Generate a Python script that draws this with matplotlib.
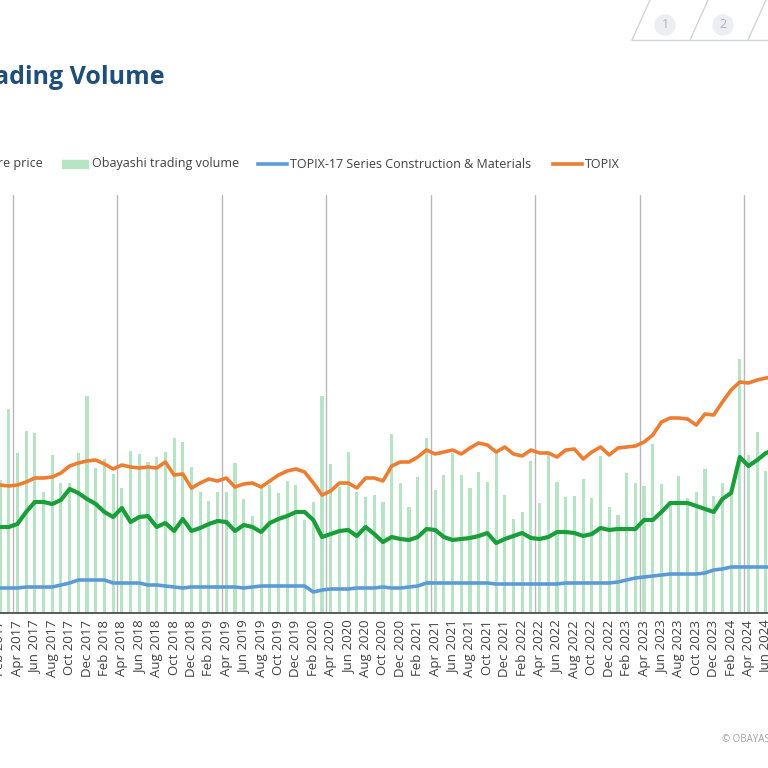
import numpy as np
import matplotlib.pyplot as plt
from matplotlib.lines import Line2D
from matplotlib.patches import Rectangle, Circle

plt.rcParams['font.family'] = ['Open Sans', 'DejaVu Sans']

# monthly series, Feb 2017 .. Jul 2024 (chart units)
MONTHS = ['Jan', 'Feb', 'Mar', 'Apr', 'May', 'Jun', 'Jul', 'Aug', 'Sep', 'Oct', 'Nov', 'Dec']
start_year = 2017
start_month = 1  # Feb

topix_raw = [485, 486, 485, 482, 478, 478, 477, 473, 466, 463, 461, 460, 464, 469, 465, 467, 468, 467, 468, 462,
             475, 474, 488, 483, 479, 481, 478, 487, 484, 483, 487, 481, 475, 471, 469, 472, 483, 495, 491, 483,
             483, 488, 478, 478, 481, 466, 462, 462, 457, 450, 454, 452, 450, 454, 448, 443, 445, 452, 447, 454,
             456, 450, 453, 453, 457, 450, 449, 459, 452, 447, 455, 448, 447, 446, 442, 435, 422, 418, 418, 419,
             425, 414, 415, 402, 390, 382, 383, 380, 378, 377]
price_raw = [527, 527, 524, 512, 502, 502, 504, 500, 489, 493, 499, 504, 512, 517, 508, 522, 517, 516, 527, 523,
             531, 519, 531, 528, 524, 521, 522, 531, 525, 527, 532, 523, 519, 516, 512, 512, 520, 537, 534, 531,
             530, 536, 527, 534, 542, 537, 539, 540, 537, 529, 530, 537, 540, 539, 538, 536, 533, 543, 539, 536,
             533, 538, 539, 537, 532, 532, 533, 536, 534, 528, 530, 529, 529, 529, 520, 520, 512, 503, 503, 503,
             506, 509, 512, 499, 493, 457, 466, 460, 453, 450]
constr_raw = [588, 588, 588, 587, 587, 587, 587, 585, 583, 580, 580, 580, 580, 583, 583, 583, 583, 585, 585, 586,
              587, 588, 587, 587, 587, 587, 587, 587, 588, 587, 586, 586, 586, 586, 586, 586, 592, 590, 589, 589,
              589, 588, 588, 588, 587, 588, 588, 587, 586, 583, 583, 583, 583, 583, 583, 583, 583, 584, 584, 584,
              584, 584, 584, 584, 584, 583, 583, 583, 583, 583, 583, 582, 580, 578, 577, 576, 575, 574, 574, 574,
              574, 573, 570, 569, 567, 567, 567, 567, 567, 567]
volume_raw = [480, 409, 453, 431, 433, 492, 455, 483, 483, 453, 396, 468, 459, 474, 488, 451, 454, 462, 457, 452,
              438, 442, 467, 492, 501, 492, 492, 463, 499, 516, 488, 485, 493, 481, 485, 520, 502, 396, 464, 487,
              452, 492, 497, 495, 502, 434, 483, 507, 477, 438, 490, 475, 453, 475, 488, 472, 482, 450, 495, 519,
              512, 461, 503, 455, 482, 497, 496, 479, 498, 456, 507, 515, 473, 483, 486, 444, 484, 503, 476, 498,
              492, 469, 496, 483, 495, 359, 455, 432, 471, 470]

BASE = 613  # readings were taken from the top of the page; turn them into heights
topix = BASE - np.array(topix_raw)
price = BASE - np.array(price_raw)
constr = BASE - np.array(constr_raw)
volume = BASE - np.array(volume_raw)

n = len(topix)
m = np.arange(start_month, start_month + n)
labels = [f"{MONTHS[k % 12]} {start_year + k // 12}" for k in m]

fig = plt.figure(figsize=(7.68, 7.68), dpi=100)
ax = fig.add_axes([0, (768 - 613) / 768, 1, 418 / 768])
ax.set_xlim(1.165, 89.24)
ax.set_ylim(0, 418)

for yr in range(2016, 2026):
    xb = (yr - start_year) * 12 + 2.5
    ax.axvline(xb, color='#b8b8b8', lw=1, zorder=0)

ax.bar(m, volume, width=0.36, color='#b8e4c6', zorder=1)
ax.plot(m, constr, color='#5b9bd5', lw=2.6, zorder=3)
ax.plot(m, price, color='#1a9e3a', lw=3, zorder=4)
ax.plot(m, topix, color='#ed7d31', lw=2.6, zorder=3)

for s in ['top', 'left', 'right']:
    ax.spines[s].set_visible(False)
ax.spines['bottom'].set_color('#404040')
ax.spines['bottom'].set_linewidth(1.2)
ax.set_yticks([])
ax.set_xticks(m[::2])
ax.set_xticklabels(labels[::2], rotation=90, fontsize=9.5, color='#404040', fontfamily='Open Sans')
ax.tick_params(axis='x', length=0, pad=5)

# title (cut at the slide edge)
fig.text(165 / 768, 1 - 78 / 768, 'Share Price and Trading Volume', ha='right', va='center',
         fontsize=18, fontweight='bold', color='#1f4e79')

# legend row
ly = 1 - 164 / 768
fs = 9
fig.text(43 / 768, ly, 'Obayashi share price', ha='right', va='center', fontsize=fs, color='#404040')
fig.add_artist(Rectangle((62 / 768, ly - 4 / 768), 26 / 768, 8 / 768, transform=fig.transFigure,
                         color='#b8e4c6'))
fig.text(92 / 768, ly, 'Obayashi trading volume', va='center', fontsize=fs, color='#404040')
fig.add_artist(Line2D([258 / 768, 287 / 768], [ly, ly], transform=fig.transFigure, color='#5b9bd5', lw=2.6))
fig.text(290 / 768, ly, 'TOPIX-17 Series Construction & Materials', va='center', fontsize=fs, color='#404040')
fig.add_artist(Line2D([553 / 768, 582 / 768], [ly, ly], transform=fig.transFigure, color='#ed7d31', lw=2.6))
fig.text(585 / 768, ly, 'TOPIX', va='center', fontsize=fs, color='#404040')

# page tabs top right
tab_c = '#d0d4da'
for x0 in [650, 708, 766]:
    fig.add_artist(Line2D([x0 / 768, (x0 - 18) / 768], [1, 1 - 40 / 768], transform=fig.transFigure,
                          color=tab_c, lw=1))
fig.add_artist(Line2D([632 / 768, 1], [1 - 40 / 768, 1 - 40 / 768], transform=fig.transFigure,
                      color=tab_c, lw=1))
for cx, t in [(665, '1'), (723, '2')]:
    fig.add_artist(Circle((cx / 768, 1 - 25 / 768), 10 / 768, transform=fig.transFigure,
                          color='#eceef2'))
    fig.text(cx / 768, 1 - 25 / 768, t, ha='center', va='center', fontsize=9, color='#b0b4bc')

fig.text(722 / 768, 1 - 740 / 768, '© OBAYASHI CORPORATION', va='center', fontsize=7, color='#a0a0a0')

fig.savefig('out.png', dpi=100)
